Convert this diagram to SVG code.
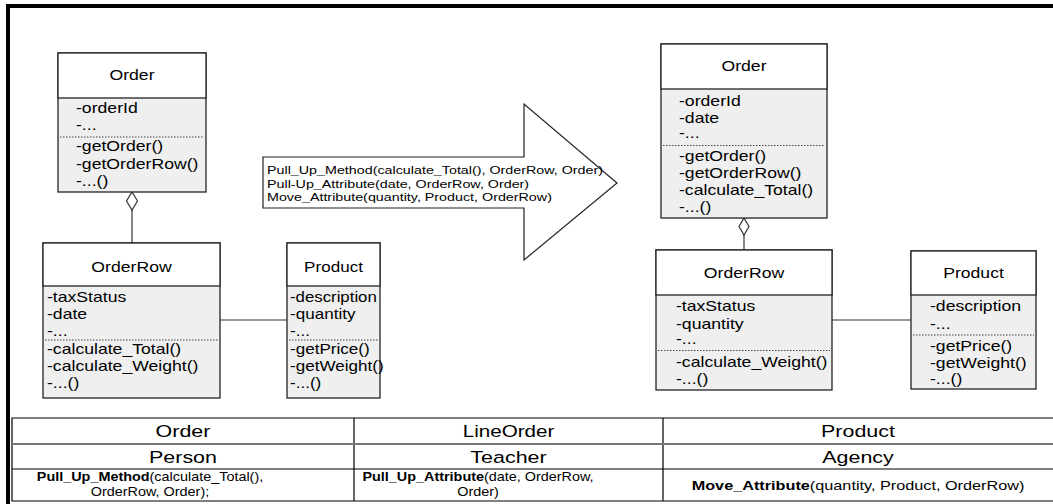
<svg xmlns="http://www.w3.org/2000/svg" width="1053" height="504" viewBox="0 0 1053 504">
<style>
text{font-family:"Liberation Sans",Arial,sans-serif;fill:#000}
.u{font-size:14px}
.m{text-anchor:middle}
.a{font-size:11px}
.h{font-size:16.5px;text-anchor:middle}
.r{font-size:12px;text-anchor:middle}
.r2{font-size:12.5px;text-anchor:middle}
.b{font-weight:bold}
.hd{fill:#fff;stroke:#222;stroke-width:1.3}
.bd{fill:#efefef;stroke:#222;stroke-width:1.3}
.dot{stroke:#444;stroke-width:1;stroke-dasharray:1.5 1.5;fill:none}
.ln{stroke:#333;stroke-width:1.2;fill:none}
.tb{stroke:#000;stroke-width:1.2;fill:none}
</style>
<rect width="1053" height="504" fill="#fff"/>
<path d="M8,504V6H1053" fill="none" stroke="#000" stroke-width="4"/>

<g id="connectors">
<line class="ln" x1="132" y1="210" x2="132" y2="243"/>
<polygon points="132,192 137.5,201 132,210 126.5,201" fill="#fff" stroke="#333" stroke-width="1.2"/>
<line class="ln" x1="220" y1="320" x2="287" y2="320"/>
<line class="ln" x1="744" y1="235" x2="744" y2="250"/>
<polygon points="744,218 749,226.5 744,235 739,226.5" fill="#fff" stroke="#333" stroke-width="1.2"/>
<line class="ln" x1="832" y1="320" x2="911" y2="320"/>
</g>

<g id="order-left">
<rect class="bd" x="58" y="53" width="148" height="139"/>
<rect class="hd" x="58" y="53" width="148" height="45"/>
<text class="u m" transform="translate(132 80) scale(1.26 1)">Order</text>
<text class="u" transform="translate(76 113) scale(1.26 1)">-orderId</text>
<text class="u" transform="translate(76 130) scale(1.26 1)">-...</text>
<line class="dot" x1="60" y1="137" x2="204" y2="137"/>
<text class="u" transform="translate(76 151) scale(1.26 1)">-getOrder()</text>
<text class="u" transform="translate(76 168.5) scale(1.26 1)">-getOrderRow()</text>
<text class="u" transform="translate(76 186) scale(1.26 1)">-...()</text>
</g>

<g id="orderrow-left">
<rect class="bd" x="43" y="243" width="177" height="155"/>
<rect class="hd" x="43" y="243" width="177" height="43"/>
<text class="u m" transform="translate(131.5 272) scale(1.26 1)">OrderRow</text>
<text class="u" transform="translate(47 302) scale(1.26 1)">-taxStatus</text>
<text class="u" transform="translate(47 319) scale(1.26 1)">-date</text>
<text class="u" transform="translate(47 336) scale(1.26 1)">-...</text>
<line class="dot" x1="45" y1="340" x2="218" y2="340"/>
<text class="u" transform="translate(47 354) scale(1.26 1)">-calculate_Total()</text>
<text class="u" transform="translate(47 371) scale(1.26 1)">-calculate_Weight()</text>
<text class="u" transform="translate(47 388) scale(1.26 1)">-...()</text>
</g>

<g id="product-left">
<rect class="bd" x="287" y="243" width="93" height="155"/>
<rect class="hd" x="287" y="243" width="93" height="43"/>
<text class="u m" transform="translate(333.5 272) scale(1.22 1)">Product</text>
<text class="u" transform="translate(290 302) scale(1.2 1)">-description</text>
<text class="u" transform="translate(290 319) scale(1.22 1)">-quantity</text>
<text class="u" transform="translate(290 336) scale(1.22 1)">-...</text>
<line class="dot" x1="289" y1="340" x2="378" y2="340"/>
<text class="u" transform="translate(290 354) scale(1.22 1)">-getPrice()</text>
<text class="u" transform="translate(290 371) scale(1.22 1)">-getWeight()</text>
<text class="u" transform="translate(290 388) scale(1.22 1)">-...()</text>
</g>

<g id="refactoring-arrow">
<path d="M263,157H524V104L617,183L524,260V208H263Z" fill="#fff" stroke="#222" stroke-width="1.2"/>
<text class="a" transform="translate(267 174) scale(1.3 1)">Pull_Up_Method(calculate_Total(), OrderRow, Order)</text>
<text class="a" transform="translate(267 187.5) scale(1.3 1)">Pull-Up_Attribute(date, OrderRow, Order)</text>
<text class="a" transform="translate(267 201) scale(1.3 1)">Move_Attribute(quantity, Product, OrderRow)</text>
</g>

<g id="order-right">
<rect class="bd" x="661" y="44" width="166" height="174"/>
<rect class="hd" x="661" y="44" width="166" height="45"/>
<text class="u m" transform="translate(744 71) scale(1.26 1)">Order</text>
<text class="u" transform="translate(679 106) scale(1.26 1)">-orderId</text>
<text class="u" transform="translate(679 123) scale(1.26 1)">-date</text>
<text class="u" transform="translate(679 138) scale(1.26 1)">-...</text>
<line class="dot" x1="663" y1="145.5" x2="825" y2="145.5"/>
<text class="u" transform="translate(679 161) scale(1.26 1)">-getOrder()</text>
<text class="u" transform="translate(679 178) scale(1.26 1)">-getOrderRow()</text>
<text class="u" transform="translate(679 195) scale(1.26 1)">-calculate_Total()</text>
<text class="u" transform="translate(679 212) scale(1.26 1)">-...()</text>
</g>

<g id="orderrow-right">
<rect class="bd" x="656" y="250" width="176" height="140"/>
<rect class="hd" x="656" y="250" width="176" height="45"/>
<text class="u m" transform="translate(744 278) scale(1.26 1)">OrderRow</text>
<text class="u" transform="translate(676 311) scale(1.26 1)">-taxStatus</text>
<text class="u" transform="translate(676 328.5) scale(1.26 1)">-quantity</text>
<text class="u" transform="translate(676 344) scale(1.26 1)">-...</text>
<line class="dot" x1="658" y1="350.5" x2="830" y2="350.5"/>
<text class="u" transform="translate(676 367) scale(1.26 1)">-calculate_Weight()</text>
<text class="u" transform="translate(676 384) scale(1.26 1)">-...()</text>
</g>

<g id="product-right">
<rect class="bd" x="911" y="251" width="125" height="138"/>
<rect class="hd" x="911" y="251" width="125" height="44"/>
<text class="u m" transform="translate(973.5 278) scale(1.26 1)">Product</text>
<text class="u" transform="translate(930 311) scale(1.26 1)">-description</text>
<text class="u" transform="translate(930 329) scale(1.26 1)">-...</text>
<line class="dot" x1="913" y1="335" x2="1034" y2="335"/>
<text class="u" transform="translate(930 351) scale(1.26 1)">-getPrice()</text>
<text class="u" transform="translate(930 367.5) scale(1.26 1)">-getWeight()</text>
<text class="u" transform="translate(930 384) scale(1.26 1)">-...()</text>
</g>

<g id="mapping-table">
<path class="tb" d="M1053,418H12V501H1053M12,469H1053M354,418V501M663,418V501"/>
<line x1="12" y1="444" x2="1053" y2="444" stroke="#777" stroke-width="2"/>
<text class="h" transform="translate(183 437) scale(1.3 1)">Order</text>
<text class="h" transform="translate(508.5 437) scale(1.25 1)">LineOrder</text>
<text class="h" transform="translate(858 437) scale(1.3 1)">Product</text>
<text class="h" transform="translate(183 462.5) scale(1.3 1)">Person</text>
<text class="h" transform="translate(508.5 462.5) scale(1.3 1)">Teacher</text>
<text class="h" transform="translate(858 462.5) scale(1.3 1)">Agency</text>
<text class="r" transform="translate(150 481) scale(1.2 1)"><tspan class="b">Pull_Up_Method</tspan>(calculate_Total(),</text>
<text class="r" transform="translate(150 495.5) scale(1.2 1)">OrderRow, Order);</text>
<text class="r" transform="translate(478 481) scale(1.2 1)"><tspan class="b">Pull_Up_Attribute</tspan>(date, OrderRow,</text>
<text class="r" transform="translate(478 495.5) scale(1.2 1)">Order)</text>
<text class="r2" transform="translate(858 489.5) scale(1.3 1)"><tspan class="b">Move_Attribute</tspan>(quantity, Product, OrderRow)</text>
</g>
</svg>
